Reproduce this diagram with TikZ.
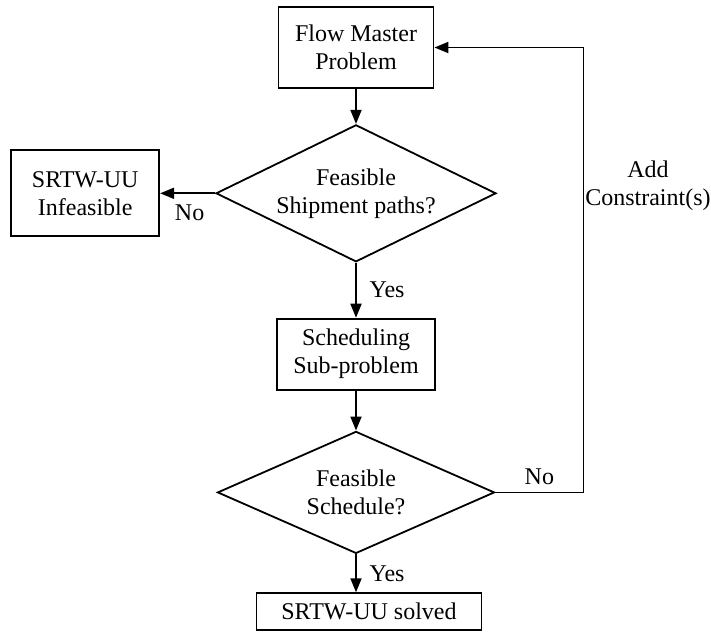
\documentclass[tikz,border=0pt]{standalone}
\usepackage{fontspec}
\setmainfont{Liberation Serif}
\usetikzlibrary{positioning, shapes.geometric, arrows.meta}

\begin{document}
\begin{tikzpicture}[x=0.5pt, y=-0.5pt, node distance=10pt,
    font=\fontsize{12}{14}\selectfont,
    box/.style={draw, line width=0.9pt, align=center, inner sep=2pt},
    test/.style={draw, diamond, aspect=2, line width=0.9pt, align=center, inner sep=0pt},
    flow/.style={line width=0.9pt, -{Triangle[length=7pt,width=5.5pt]}}]
  \useasboundingbox (0,0) rectangle (711,634);

  \node[box, minimum width=77.5pt, minimum height=40.5pt] at (356,47.5) (master) {Flow Master\\Problem};
  \node[test, minimum width=140pt, minimum height=68.5pt, below = 17.5pt of master] (feas1) {Feasible\\Shipment paths?};
  \node[box, minimum width=74pt, minimum height=43pt, left = 27.5pt of feas1] (infeas) {SRTW-UU\\Infeasible};
  \node[box, minimum width=79pt, minimum height=35.5pt, below = 27.5pt of feas1] (sched) {Scheduling\\Sub-problem};
  \node[test, minimum width=138.5pt, minimum height=61pt, below = 20pt of sched] (feas2) {Feasible\\Schedule?};
  \node[box, minimum width=112.5pt, minimum height=18.5pt, below = 19pt of feas2, xshift=6.5pt] (solved) {SRTW-UU solved};

  \draw[flow] (master) -- (feas1);
  \draw[flow] (feas1) -- node[below, xshift=1pt, yshift=-2pt] {No} (infeas);
  \draw[flow] (feas1) -- node[right, xshift=3pt] {Yes} (sched);
  \draw[flow] (sched) -- (feas2);
  \draw[flow] (feas2.south) -- node[right, xshift=3pt] {Yes} (feas2.south |- solved.north);
  \draw[flow] (feas2.east) -- node[above] {No} ++(88,0) coordinate (turn)
    -- node[right, pos=0.69, align=center, inner sep=0.5pt] {Add\\Constraint(s)} (turn |- master.east) -- (master.east);
\end{tikzpicture}
\end{document}
